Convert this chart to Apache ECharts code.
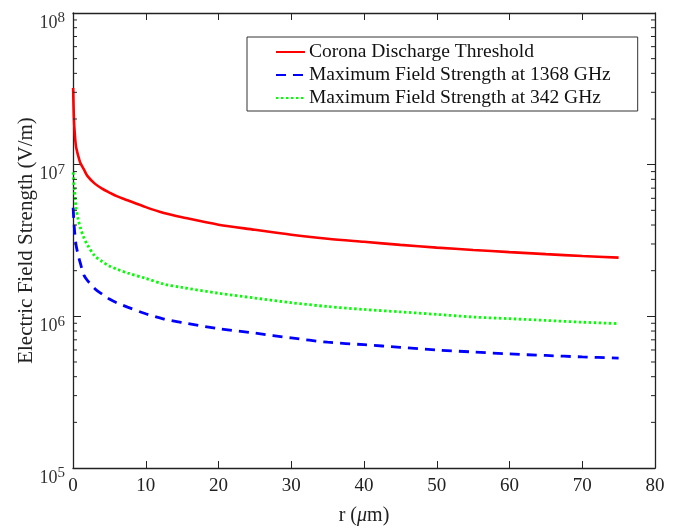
<!DOCTYPE html>
<html>
<head>
<meta charset="utf-8">
<script src="https://cdn.jsdelivr.net/npm/echarts@6/dist/echarts.min.js"></script>
<style>html,body{margin:0;padding:0;background:#fff;}#c{width:687px;height:528px;}</style>
</head>
<body>
<div id="c"></div>
<script>
const r = [0.02, 0.1, 0.2, 0.4, 0.7, 1, 1.5, 2, 3, 4, 5, 6, 7.5, 10, 12.5, 15, 20, 25, 30, 35, 40, 45, 50, 55, 60, 65, 70, 75];
const corona = [3.2e7, 2.2e7, 1.72e7, 1.33e7, 1.15e7, 1.03e7, 9.3e6, 8.4e6, 7.5e6, 6.95e6, 6.55e6, 6.2e6, 5.82e6, 5.25e6, 4.8e6, 4.5e6, 4.02e6, 3.72e6, 3.45e6, 3.25e6, 3.1e6, 2.96e6, 2.84e6, 2.74e6, 2.65e6, 2.57e6, 2.5e6, 2.44e6];
const field1368 = [5.2e6, 4.4e6, 3.75e6, 3.0e6, 2.55e6, 2.25e6, 1.87e6, 1.72e6, 1.52e6, 1.4e6, 1.3e6, 1.23e6, 1.15e6, 1.04e6, 0.96e6, 0.91e6, 0.83e6, 0.775e6, 0.72e6, 0.675e6, 0.65e6, 0.625e6, 0.6e6, 0.582e6, 0.565e6, 0.552e6, 0.54e6, 0.53e6];
const field342 = [8.9e6, 7.7e6, 6.8e6, 5.3e6, 4.4e6, 3.85e6, 3.3e6, 2.95e6, 2.5e6, 2.3e6, 2.15e6, 2.05e6, 1.93e6, 1.78e6, 1.63e6, 1.55e6, 1.42e6, 1.32e6, 1.23e6, 1.16e6, 1.11e6, 1.07e6, 1.03e6, 0.99e6, 0.965e6, 0.94e6, 0.915e6, 0.895e6];
const seriesNames = ['Corona Discharge Threshold', 'Maximum Field Strength at 1368 GHz', 'Maximum Field Strength at 342 GHz'];
const xTicks = [0, 10, 20, 30, 40, 50, 60, 70, 80];
const yDecades = [1e5, 1e6, 1e7, 1e8];

const FONT = 'Liberation Serif';
const chart = echarts.init(document.getElementById('c'), null, {renderer: 'canvas'});
const pair = (ys) => r.map((x, i) => [x, ys[i]]);
const axisLine = {show: true, onZero: false, lineStyle: {color: '#222', width: 1.3}};

const option = {
  animation: false,
  backgroundColor: '#fff',
  grid: {left: 73, right: 32, top: 13, bottom: 60, containLabel: false, outerBoundsMode: 'none'},
  legend: {
    orient: 'vertical', left: 247, top: 37,
    padding: [5, 27, 3, 28], itemGap: 3,
    itemWidth: 29, itemHeight: 14,
    borderColor: '#333', borderWidth: 1, backgroundColor: '#fff',
    itemStyle: {opacity: 0},
    textStyle: {fontFamily: FONT, fontSize: 19.5, lineHeight: 20, color: '#111', padding: [0, 0, 0, -1]},
    data: seriesNames
  },
  xAxis: [{
    type: 'value', min: xTicks[0], max: xTicks[xTicks.length - 1], interval: 10,
    axisLine: axisLine, splitLine: {show: false},
    axisTick: {inside: true, length: 7, lineStyle: {color: '#222'}},
    axisLabel: {fontFamily: FONT, fontSize: 19, color: '#222', margin: 9},
    name: 'r ({i|μ}m)', nameLocation: 'middle', nameGap: 38, nameMoveOverlap: false,
    nameTextStyle: {fontFamily: FONT, fontSize: 20, color: '#222',
      rich: {i: {fontFamily: FONT, fontStyle: 'italic', fontSize: 20, color: '#222'}}}
  }, {
    type: 'value', position: 'top', min: 0, max: 80, interval: 10,
    axisLine: axisLine, splitLine: {show: false},
    axisTick: {inside: true, length: 7, lineStyle: {color: '#222'}},
    axisLabel: {show: false}
  }],
  yAxis: [{
    type: 'log', min: yDecades[0], max: yDecades[yDecades.length - 1], logBase: 10,
    axisLine: axisLine, splitLine: {show: false},
    axisTick: {inside: true, length: 8, lineStyle: {color: '#222'}},
    axisLabel: {
      fontFamily: FONT, color: '#222', margin: 8,
      formatter: (v) => '{b|10}{s|' + Math.round(Math.log10(v)) + '}',
      rich: {
        b: {fontFamily: FONT, fontSize: 18, lineHeight: 18, color: '#333', padding: [10, 0, 0, 0], verticalAlign: 'top'},
        s: {fontFamily: FONT, fontSize: 15, lineHeight: 15, color: '#333', padding: [7, 0, 0, 0], verticalAlign: 'top'}
      }
    },
    name: 'Electric Field Strength (V/m)', nameLocation: 'middle', nameGap: 36, nameMoveOverlap: false,
    nameTextStyle: {fontFamily: FONT, fontSize: 21, color: '#222'}
  }, {
    type: 'log', position: 'right', min: 1e5, max: 1e8, logBase: 10,
    axisLine: axisLine, splitLine: {show: false},
    axisTick: {inside: true, length: 8, lineStyle: {color: '#222'}},
    axisLabel: {show: false}
  }],
  series: [{
    name: seriesNames[0], type: 'line', data: pair(corona), smooth: 0.3,
    showSymbol: false, symbol: 'none', color: '#ff0000',
    lineStyle: {color: '#ff0000', width: 2.6}
  }, {
    name: seriesNames[1], type: 'line', data: pair(field1368), smooth: 0.3,
    showSymbol: false, symbol: 'none', color: '#0000ff',
    lineStyle: {color: '#0000ff', width: 2.8, type: [10, 7]}
  }, {
    name: seriesNames[2], type: 'line', data: pair(field342), smooth: 0.3,
    showSymbol: false, symbol: 'none', color: '#00ff00',
    lineStyle: {color: '#00ff00', width: 2.8, type: [2.5, 2.5]}
  }]
};
chart.setOption(option);

// minor log ticks (2..9 x 10^n) on left and right axes
const minor = [];
for (let d = 5; d < 8; d++) for (let k = 2; k <= 9; k++) minor.push(k * Math.pow(10, d));
const gfx = [];
minor.forEach((v) => {
  const pL = chart.convertToPixel({xAxisIndex: 0, yAxisIndex: 0}, [0, v]);
  const pR = chart.convertToPixel({xAxisIndex: 0, yAxisIndex: 0}, [80, v]);
  gfx.push({type: 'line', shape: {x1: pL[0], y1: pL[1], x2: pL[0] + 4, y2: pL[1]}, style: {stroke: '#222', lineWidth: 1}, z: 10});
  gfx.push({type: 'line', shape: {x1: pR[0], y1: pR[1], x2: pR[0] - 4, y2: pR[1]}, style: {stroke: '#222', lineWidth: 1}, z: 10});
});
chart.setOption({graphic: gfx});
</script>
</body>
</html>
